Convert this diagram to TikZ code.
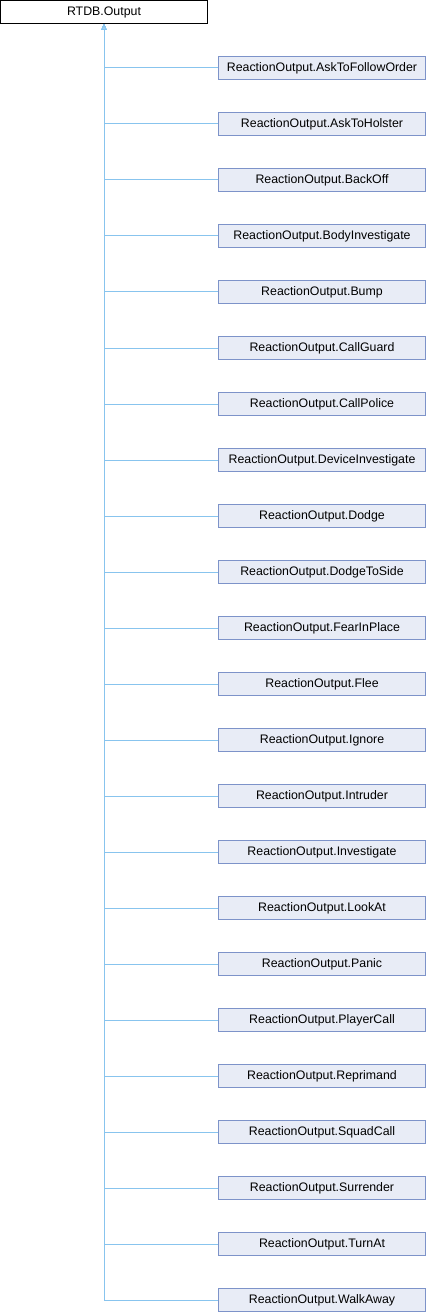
\documentclass[tikz,border=0pt]{standalone}
\usepackage{fontspec}
\setmainfont{Liberation Sans}
\usetikzlibrary{arrows.meta}
\definecolor{edgecol}{HTML}{88C4EE}
\definecolor{boxfill}{HTML}{E8ECF6}
\definecolor{boxdraw}{HTML}{7D93C9}
\tikzset{
  base/.style={draw=black, fill=white, line width=1bp, minimum width=207bp, minimum height=23bp, inner sep=0pt, font=\fontsize{12.4}{14}\selectfont},
  child/.style={draw=boxdraw, fill=boxfill, line width=1bp, minimum width=207bp, minimum height=23bp, inner sep=0pt, font=\fontsize{12.4}{14}\selectfont},
  edge/.style={draw=edgecol, line width=1bp, -{Triangle[length=6bp, width=5bp, fill=edgecol!70]}}
}
\begin{document}
\begin{tikzpicture}[x=1bp, y=-1bp]
\useasboundingbox (0,0) rectangle (426,1312);
\node[base] (top) at (104,12) {RTDB.Output};
\foreach \name [count=\i from 0] in {AskToFollowOrder,AskToHolster,BackOff,BodyInvestigate,Bump,CallGuard,CallPolice,DeviceInvestigate,Dodge,DodgeToSide,FearInPlace,Flee,Ignore,Intruder,Investigate,LookAt,Panic,PlayerCall,Reprimand,SquadCall,Surrender,TurnAt,WalkAway}{
  \node[child] (c\i) at (322,68+56*\i) {ReactionOutput.\name};
  \draw[edge] (c\i.west) -| (top.south);
}
\end{tikzpicture}
\end{document}
